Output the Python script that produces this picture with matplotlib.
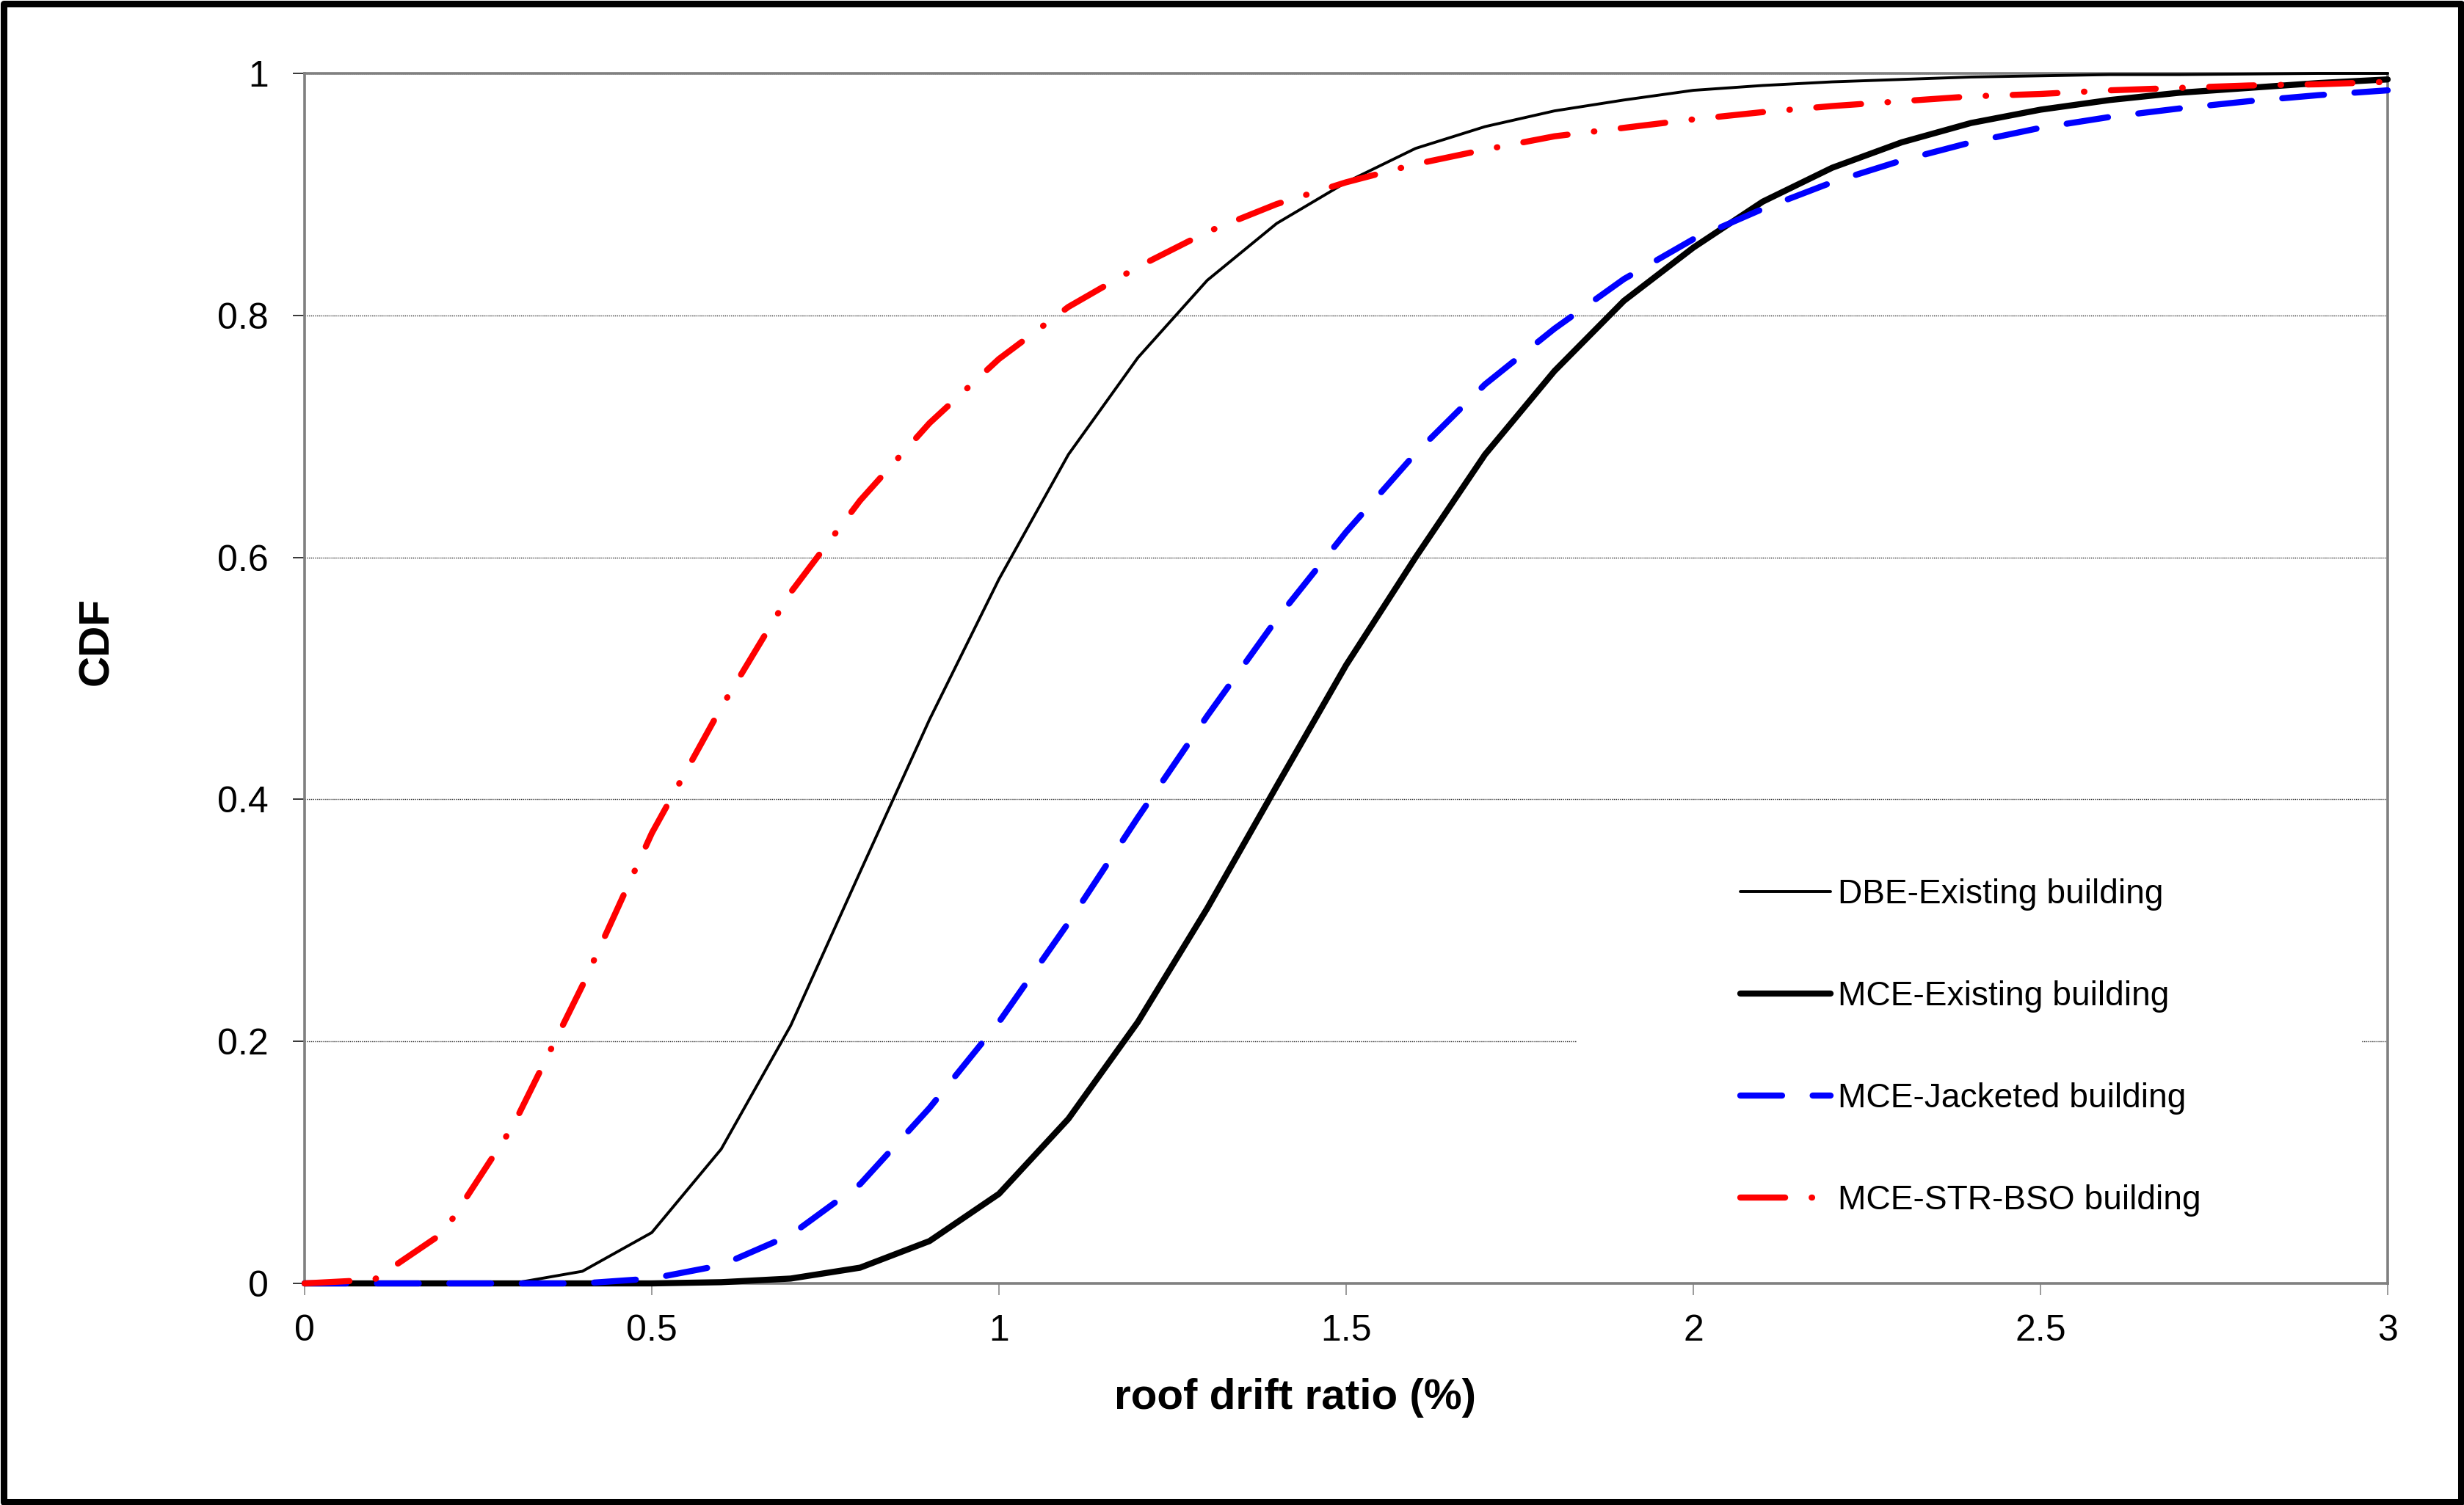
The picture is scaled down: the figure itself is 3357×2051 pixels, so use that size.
import numpy as np
import matplotlib
matplotlib.use("Agg")
import matplotlib.pyplot as plt
from matplotlib.patches import Rectangle

plt.rcParams["font.family"] = ["Liberation Sans", "DejaVu Sans"]
plt.rcParams["lines.scale_dashes"] = False

# roof drift ratio (%), sampled every 0.1
drift = np.round(np.arange(0, 3.01, 0.1), 1)

dbe_existing = [0.0, 0.0, 0.0, 0.0, 0.01, 0.042, 0.111, 0.213, 0.34, 0.466,
                0.582, 0.685, 0.765, 0.829, 0.876, 0.91, 0.938, 0.956, 0.969, 0.978,
                0.986, 0.99, 0.993, 0.995, 0.997, 0.998, 0.999, 0.999, 0.9995, 1.0, 1.0]
mce_existing = [0.0, 0.0, 0.0, 0.0, 0.0, 0.0, 0.001, 0.004, 0.013, 0.035,
                0.074, 0.136, 0.216, 0.31, 0.411, 0.511, 0.6, 0.685, 0.754, 0.812,
                0.856, 0.894, 0.922, 0.943, 0.959, 0.97, 0.978, 0.984, 0.988, 0.992, 0.995]
mce_jacketed = [0.0, 0.0, 0.0, 0.0, 0.0, 0.004, 0.015, 0.04, 0.082, 0.145,
                0.216, 0.298, 0.385, 0.469, 0.549, 0.621, 0.686, 0.743, 0.789, 0.83,
                0.863, 0.888, 0.91, 0.928, 0.943, 0.955, 0.964, 0.971, 0.977, 0.982, 0.986]
mce_str_bso = [0.0, 0.003, 0.042, 0.13, 0.246, 0.372, 0.476, 0.571, 0.647, 0.711,
               0.764, 0.807, 0.84, 0.869, 0.892, 0.91, 0.925, 0.937, 0.948, 0.955,
               0.962, 0.968, 0.973, 0.977, 0.981, 0.983, 0.986, 0.988, 0.99, 0.991, 0.993]

labels = ["DBE-Existing building", "MCE-Existing building",
          "MCE-Jacketed building", "MCE-STR-BSO building"]

W, H = 3357, 2051
fig = plt.figure(figsize=(W / 100, H / 100), dpi=100)
ax = fig.add_axes([415 / W, 1 - 1749 / H, (3253 - 415) / W, (1749 - 100) / H])

common = dict(zorder=3, clip_on=False, solid_capstyle="round", dash_capstyle="round")
l1, = ax.plot(drift, dbe_existing, color="black", lw=2.8, **common)
l2, = ax.plot(drift, mce_existing, color="black", lw=6.0, **common)
l3, = ax.plot(drift, mce_jacketed, color="#0000ff", lw=6.0, dashes=(41, 30), **common)
l4, = ax.plot(drift, mce_str_bso, color="#ff0000", lw=6.0, dashes=(44, 26, 0.5, 26), **common)

ax.set_xlim(0, 3)
ax.set_ylim(0, 1)
ax.set_xticks([0, 0.5, 1, 1.5, 2, 2.5, 3])
ax.set_xticklabels(["0", "0.5", "1", "1.5", "2", "2.5", "3"])
ax.set_yticks([0, 0.2, 0.4, 0.6, 0.8, 1])
ax.set_yticklabels(["0", "0.2", "0.4", "0.6", "0.8", "1"])

ax.set_axisbelow(True)
ax.yaxis.grid(True, color="#303030", lw=1.0, linestyle=(0, (1, 1)))
ax.xaxis.grid(False)
for s in ax.spines.values():
    s.set_color("#808080")
    s.set_linewidth(2.6)

ax.tick_params(axis="y", direction="out", length=11.5, width=1.1, color="black",
               labelsize=36, pad=24)
ax.tick_params(axis="x", direction="out", length=11.5, width=1.1, color="#808080",
               labelsize=36, pad=19)

# white box behind the legend hides the gridline there
ax.add_patch(Rectangle((2148 / W, 1 - 1720 / H), (3218 - 2148) / W, (1720 - 1130) / H,
                       transform=fig.transFigure, facecolor="white", edgecolor="none",
                       zorder=1))

ax.legend([l1, l2, l3, l4], labels, loc="upper left",
          bbox_to_anchor=(2371 / W, 1 - 1197 / H), bbox_transform=fig.transFigure,
          frameon=False, borderpad=0, borderaxespad=0, fontsize=33.2,
          handlelength=2.67, handletextpad=0.22, labelspacing=2.06)

fig.text(1765 / W, 1 - 1905 / H, "roof drift ratio (%)", fontsize=42,
         fontweight="bold", ha="center", va="center")
fig.text(132 / W, 1 - 874 / H, "CDF", fontsize=42, fontweight="bold",
         rotation=90, ha="center", va="center")

# black frame around the whole chart
fig.patches.append(Rectangle((4.5 / W, 4.5 / H), 1 - 9 / W, 1 - 9 / H,
                             transform=fig.transFigure, fill=False,
                             edgecolor="black", lw=6.5, joinstyle="round"))

fig.savefig("out.png", dpi=100, facecolor="white")
